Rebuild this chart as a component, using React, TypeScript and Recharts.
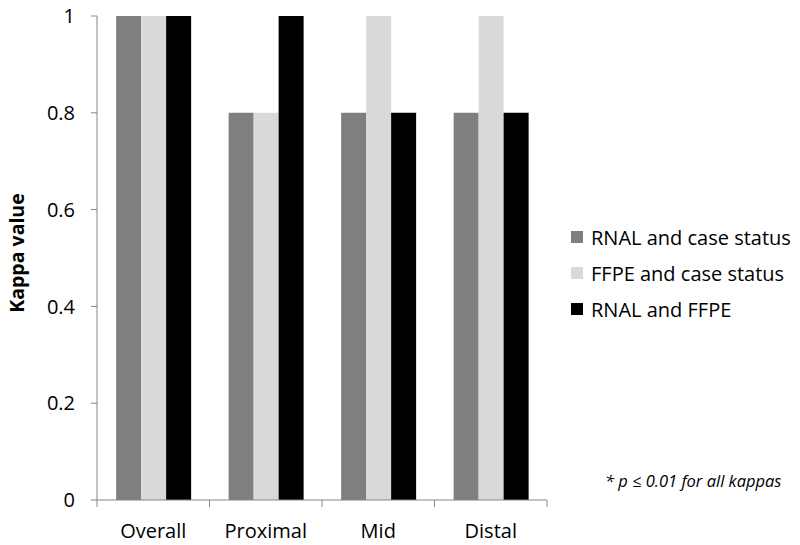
import { BarChart, Bar, XAxis, YAxis } from "recharts";

const categories = ["Overall", "Proximal", "Mid", "Distal"];
const rnalCase = [1, 0.8, 0.8, 0.8];
const ffpeCase = [1, 0.8, 1, 1];
const rnalFfpe = [1, 1, 0.8, 0.8];
const yTicks = [0, 0.2, 0.4, 0.6, 0.8, 1];

const series = [
  { key: "rnalCase", name: "RNAL and case status", color: "#7f7f7f" },
  { key: "ffpeCase", name: "FFPE and case status", color: "#d9d9d9" },
  { key: "rnalFfpe", name: "RNAL and FFPE", color: "#000000" },
];

const data = categories.map((c, i) => ({
  category: c,
  rnalCase: rnalCase[i],
  ffpeCase: ffpeCase[i],
  rnalFfpe: rnalFfpe[i],
}));

const FONT = "'Open Sans', sans-serif";
const AXIS = "#868686";

// Excel-style category ticks: marks sit on the boundaries between groups
function CategoryTick({ x, y, payload, index, visibleTicksCount }: any) {
  const half = payload.offset || 0;
  const last = index === visibleTicksCount - 1;
  return (
    <g>
      <line x1={x - half} x2={x - half} y1={y} y2={y + 7} stroke={AXIS} />
      {last && <line x1={x + half} x2={x + half} y1={y} y2={y + 7} stroke={AXIS} />}
      <text x={x} y={y + 38} textAnchor="middle" fontSize={20} fill="#000" fontFamily={FONT}>
        {payload.value}
      </text>
    </g>
  );
}

function LegendBox() {
  return (
    <div style={{ position: "absolute", left: 571, top: 219, fontFamily: FONT, fontSize: 20, color: "#000" }}>
      {series.map((s) => (
        <div key={s.key} style={{ display: "flex", alignItems: "center", height: 36 }}>
          <div style={{ width: 12, height: 12, background: s.color, marginRight: 8 }} />
          <span>{s.name}</span>
        </div>
      ))}
    </div>
  );
}

export default function App() {
  return (
    <div style={{ position: "absolute", left: 0, top: 0, width: 800, height: 545, background: "#fff" }}>
      <BarChart
        width={800}
        height={545}
        data={data}
        margin={{ top: 16, right: 253, bottom: 0, left: 0 }}
        barCategoryGap="17%"
        barGap={0}
        style={{ fontFamily: FONT }}
      >
        <XAxis
          dataKey="category"
          height={45}
          stroke={AXIS}
          tickLine={false}
          tickSize={0}
          tickMargin={0}
          tick={<CategoryTick />}
          interval={0}
        />
        <YAxis
          domain={[0, 1]}
          ticks={yTicks}
          width={97}
          stroke={AXIS}
          tickSize={6}
          tickMargin={16}
          tick={{ fill: "#000", fontSize: 20, fontFamily: FONT }}
          label={{
            content: ({ viewBox }: any) => {
              const cy = viewBox.y + viewBox.height / 2 - 5;
              return (
                <text
                  x={16}
                  y={cy}
                  transform={`rotate(-90, 16, ${cy})`}
                  textAnchor="middle"
                  dominantBaseline="central"
                  fontSize={19.5}
                  fontWeight="bold"
                  fontFamily={FONT}
                  fill="#000"
                >
                  Kappa value
                </text>
              );
            },
          }}
        />
        {series.map((s) => (
          <Bar key={s.key} dataKey={s.key} name={s.name} fill={s.color} isAnimationActive={false} />
        ))}
      </BarChart>
      <LegendBox />
      <div
        style={{
          position: "absolute",
          left: 605,
          top: 469,
          fontFamily: FONT,
          fontStyle: "italic",
          fontSize: 16.5,
          color: "#000",
        }}
      >
        * p ≤ 0.01 for all kappas
      </div>
    </div>
  );
}
